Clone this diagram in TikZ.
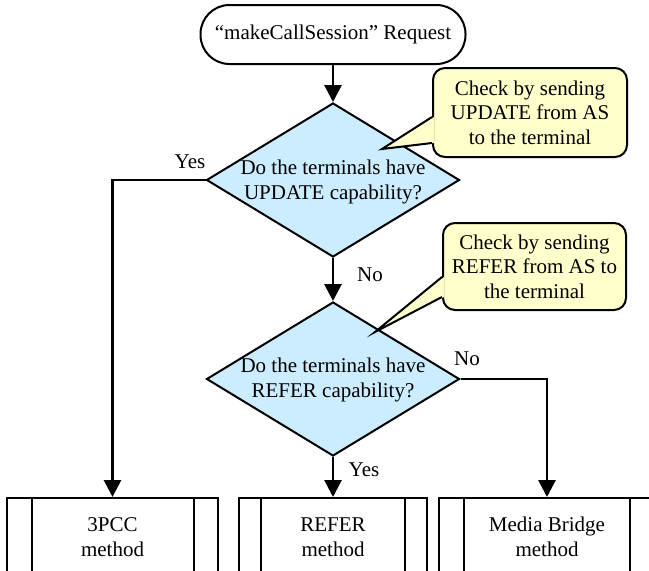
\documentclass[tikz,border=0pt]{standalone}
\usepackage{fontspec}
\setmainfont{Liberation Serif}
\usetikzlibrary{shapes.geometric,arrows.meta,calc}
\definecolor{diafill}{RGB}{204,236,255}
\definecolor{callfill}{RGB}{255,255,204}
\begin{document}
\begin{tikzpicture}[x=1pt,y=-1pt,
  every node/.style={font=\fontsize{21}{24.5}\selectfont},
  term/.style={draw,line width=2pt,rounded corners=29pt,minimum width=265pt,minimum height=59pt,inner sep=0pt},
  dia/.style={draw,diamond,fill=diafill,line width=2pt,minimum width=253pt,minimum height=154pt,inner sep=0pt},
  txt/.style={align=center,inner sep=0pt},
  proc/.style={draw,line width=2pt,minimum height=78pt,inner sep=0pt,align=center},
  conn/.style={line width=2.8pt,-{Triangle[width=17pt,length=17pt]}},
  bar/.style={line width=2pt},
  note/.style={draw,fill=callfill,line width=2pt,rounded corners=12pt,align=center,inner sep=0pt},
  ptr/.style={line width=2pt,line join=miter},
  lbl/.style={inner sep=0pt}]
\useasboundingbox (0,0) rectangle (649,571);
\clip (0,0) rectangle (649,571);

% start
\node[term] (start) at (333,34.5) {“makeCallSession” Request};

% decisions
\node[dia] (d1) at (333,180) {};
\node[txt] (q1) at (333,182) {Do the terminals have\\UPDATE capability?};
\node[dia] (d2) at (333,379) {};
\node[txt] (q2) at (333,380) {Do the terminals have\\REFER capability?};

% processes
\node[proc,minimum width=211pt] (b1) at (112.5,537) {3PCC\\method};
\draw[bar] ([xshift=26pt]b1.north west) -- ([xshift=26pt]b1.south west);
\draw[bar] ([xshift=-25pt]b1.north east) -- ([xshift=-25pt]b1.south east);
\node[proc,minimum width=188pt] (b2) at (333,537) {REFER\\method};
\draw[bar] ([xshift=23pt]b2.north west) -- ([xshift=23pt]b2.south west);
\draw[bar] ([xshift=-23pt]b2.north east) -- ([xshift=-23pt]b2.south east);
\node[proc,minimum width=216pt] (b3) at (547,537) {Media Bridge\\method};
\draw[bar] ([xshift=26pt]b3.north west) -- ([xshift=26pt]b3.south west);
\draw[bar] ([xshift=-26pt]b3.north east) -- ([xshift=-26pt]b3.south east);

% connectors
\draw[conn] (start.south) -- (d1.north);
\draw[conn] (d1.west) -| (b1.north);
\draw[conn] (d1.south) -- (d2.north);
\draw[conn] (d2.east) -| (b3.north);
\draw[conn] (d2.south) -- (b2.north);

% labels
\node[lbl] (y1) at (190,162) {Yes};
\node[lbl] (n1) at (370,275) {No};
\node[lbl] (n2) at (467,359) {No};
\node[lbl] (y2) at (364,470) {Yes};

% callouts
\node[note,minimum width=194pt,minimum height=89pt] (c1) at (530,112.5) {Check by sending\\UPDATE from AS\\to the terminal};
\coordinate (t1) at (382,149);
\fill[callfill] ($(c1.west)+(2,4.5)$) -- (t1) -- ($(c1.west)+(2,30.5)$) -- cycle;
\draw[ptr] ($(c1.west)+(0,4.5)$) -- (t1) -- ($(c1.west)+(0,30.5)$);

\node[note,minimum width=183pt,minimum height=87pt] (c2) at (534.5,266.5) {Check by sending\\REFER from AS to\\the terminal};
\coordinate (t2) at (375,332);
\fill[callfill] ($(c2.west)+(2,10.5)$) -- (t2) -- ($(c2.west)+(2,30.5)$) -- cycle;
\draw[ptr] ($(c2.west)+(0,10.5)$) -- (t2) -- ($(c2.west)+(0,30.5)$);
\end{tikzpicture}
\end{document}
